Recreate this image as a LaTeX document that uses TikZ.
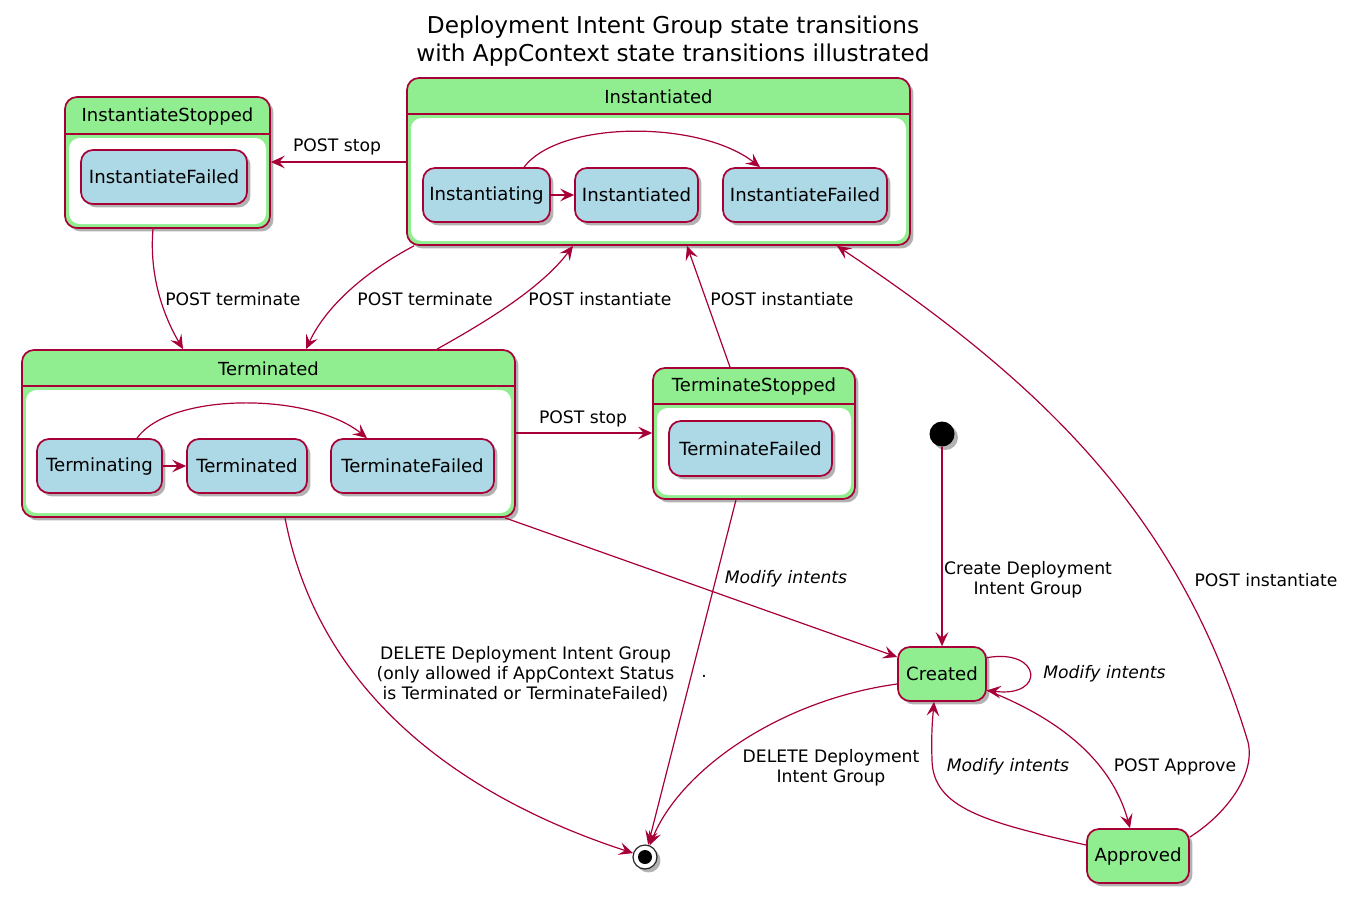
\documentclass[tikz,border=0pt]{standalone}
\usepackage{fontspec}
\setmainfont{DejaVu Sans}
\usetikzlibrary{arrows.meta,shadows}
\definecolor{pbord}{HTML}{A80036}
\definecolor{pgreen}{HTML}{90EE90}
\definecolor{pblue}{HTML}{ADD8E6}
\begin{document}
\begin{tikzpicture}[x=0.75pt,y=-0.75pt,
 sz/.style 2 args={minimum width=#1*0.75pt, minimum height=#2*0.75pt},
 shad/.style={drop shadow={shadow xshift=2.6pt, shadow yshift=-2.6pt, opacity=0.3, fill=black}},
 comp/.style={draw=pbord, line width=1.3pt, fill=pgreen, rounded corners=9pt, inner sep=0pt, shad},
 body/.style={fill=white, rounded corners=8pt, inner sep=0pt},
 sep/.style={draw=pbord, line width=1.3pt},
 hdr/.style={font=\fontsize{13.5}{16}\selectfont, inner sep=0pt},
 sub/.style={draw=pbord, line width=1.3pt, fill=pblue, rounded corners=9pt, inner sep=0pt, font=\fontsize{13.6}{16}\selectfont, shad},
 simple/.style={draw=pbord, line width=1.3pt, fill=pgreen, rounded corners=9pt, inner sep=0pt, font=\fontsize{13.6}{16}\selectfont, shad},
 arr/.style={draw=pbord, line width=0.9pt, -{Stealth[length=10.5pt,width=9.5pt,inset=4.2pt]}},
 lbl/.style={font=\fontsize{12.9}{15}\selectfont, inner sep=0pt, align=center},
 ilbl/.style={inner sep=0pt, align=center, font=\fontsize{12.9}{15}\selectfont\itshape},
]
\useasboundingbox (0,0) rectangle (1357,918);

% title
\node[font=\fontsize{17.4}{21}\selectfont, align=center, inner sep=0pt] (title) at (673,41)
  {Deployment Intent Group state transitions\\with AppContext state transitions illustrated};

% InstantiateStopped
\node[comp, sz={205}{131}] (isS) at (167.5,162.5) {};
\draw[sep] (isS.west |- 0,134) -- (isS.east |- 0,134);
\node[body, sz={197}{86}] (isSb) at (167.5,181) {};
\node[hdr] (isSt) at (167.5,116.5) {InstantiateStopped};
\node[sub, sz={166}{54}] (isF) at (164,177) {InstantiateFailed};

% Instantiated
\node[comp, sz={503}{167}] (inst) at (658.5,161.5) {};
\draw[sep] (inst.west |- 0,114) -- (inst.east |- 0,114);
\node[body, sz={495}{123}] (instb) at (658.5,179.5) {};
\node[hdr] (instt) at (658.5,96.5) {Instantiated};
\node[sub, sz={127}{54}] (ing) at (486.5,195) {Instantiating};
\node[sub, sz={123}{54}] (ied) at (636.5,195) {Instantiated};
\node[sub, sz={164}{54}] (iF) at (805,195) {InstantiateFailed};

% Terminated
\node[comp, sz={493}{167}] (term) at (268.5,433.5) {};
\draw[sep] (term.west |- 0,386) -- (term.east |- 0,386);
\node[body, sz={485}{123}] (termb) at (268.5,451.5) {};
\node[hdr] (termt) at (268.5,368.5) {Terminated};
\node[sub, sz={125}{54}] (tng) at (99.5,466) {Terminating};
\node[sub, sz={120}{54}] (tnd) at (247,466) {Terminated};
\node[sub, sz={163}{54}] (tF) at (412.5,466) {TerminateFailed};

% TerminateStopped
\node[comp, sz={202}{131}] (tS) at (754,433.5) {};
\draw[sep] (tS.west |- 0,404) -- (tS.east |- 0,404);
\node[body, sz={194}{87}] (tSb) at (754,451.5) {};
\node[hdr] (tSt) at (754,386.5) {TerminateStopped};
\node[sub, sz={163}{55}] (tsF) at (750.5,448.5) {TerminateFailed};

% simple states
\node[circle, fill=black, minimum size=18.75pt, inner sep=0pt, shad] (init) at (942,434) {};
\node[simple, sz={88}{54}] (cr) at (942,674) {Created};
\node[simple, sz={102}{54}] (ap) at (1138,856) {Approved};
\node[circle, draw=black!85, line width=0.9pt, fill=white, minimum size=18pt, inner sep=0pt, shad] (fin) at (645,857) {};
\node[circle, fill=black, minimum size=10.5pt, inner sep=0pt] (finc) at (fin) {};

% inner transitions
\draw[arr] (ing) -- (ied);
\draw[arr] (524,0 |- ing.north) .. controls (560,120) and (700,120) .. (760,0 |- iF.north);
\draw[arr] (tng) -- (tnd);
\draw[arr] (137,0 |- tng.north) .. controls (170,392) and (310,392) .. (367,0 |- tF.north);

% transitions
\draw[arr] (inst.west |- 0,162) -- (isS.east |- 0,162);
\node[lbl] (l1) at (337,147) {POST stop};

\draw[arr] (153,0 |- isS.south) .. controls (149,275) and (163,315) .. (183,0 |- term.north);
\node[lbl, anchor=west] (l2) at (165,299) {POST terminate};

\draw[arr] (414,0 |- inst.south) .. controls (372,268) and (328,302) .. (306,0 |- term.north);
\node[lbl] (l3) at (425,299) {POST terminate};

\draw[arr] (437,0 |- term.north) .. controls (480,325) and (540,290) .. (573,0 |- inst.south);
\node[lbl] (l4) at (600,299) {POST instantiate};

\draw[arr] (730,0 |- tS.north) -- (687,0 |- inst.south);
\node[lbl] (l5) at (782,299) {POST instantiate};

\draw[arr] (term.east |- 0,433) -- (tS.west |- 0,433);
\node[lbl] (l6) at (583,419) {POST stop};

\draw[arr] (505,0 |- term.south) -- (cr.west |- 0,657);
\node[ilbl] (l7) at (786,579) {Modify intents};

\draw[arr] (285,0 |- term.south) .. controls (320,700) and (470,800) .. (fin);
\node[lbl] (l8) at (525.5,674) {DELETE Deployment Intent Group\\(only allowed if AppContext Status\\is Terminated or TerminateFailed)};

\draw[arr] (736,0 |- tS.south) -- (fin);
\node[lbl] (l9) at (704,676) {.};

\draw[arr] (cr.west |- 0,684) .. controls (780,700) and (680,770) .. (fin);
\node[lbl] (l10) at (831,768) {DELETE Deployment\\Intent Group};

\draw[arr] (init) -- (cr);
\node[lbl] (l11) at (1028,580) {Create Deployment\\Intent Group};

\draw[arr] (cr.20) .. controls (1042,648) and (1046,698) .. (cr.-20);
\node[ilbl, anchor=west] (l12) at (1043,674) {Modify intents};

\draw[arr] (cr.-20) .. controls (1050,715) and (1110,755) .. (1130,0 |- ap.north);
\node[lbl] (l13) at (1175,767) {POST Approve};

\draw[arr] (ap.west |- 0,845) .. controls (985,822) and (933,808) .. (932,760) .. controls (931,730) and (933,715) .. (934,0 |- cr.south);
\node[ilbl] (l14) at (1008,767) {Modify intents};

\draw[arr] (ap.east |- 0,837) .. controls (1225,815) and (1256,775) .. (1248,742) .. controls (1181,520) and (1049,387) .. (837,0 |- inst.south);
\node[lbl] (l15) at (1266,580) {POST instantiate};
\end{tikzpicture}
\end{document}
